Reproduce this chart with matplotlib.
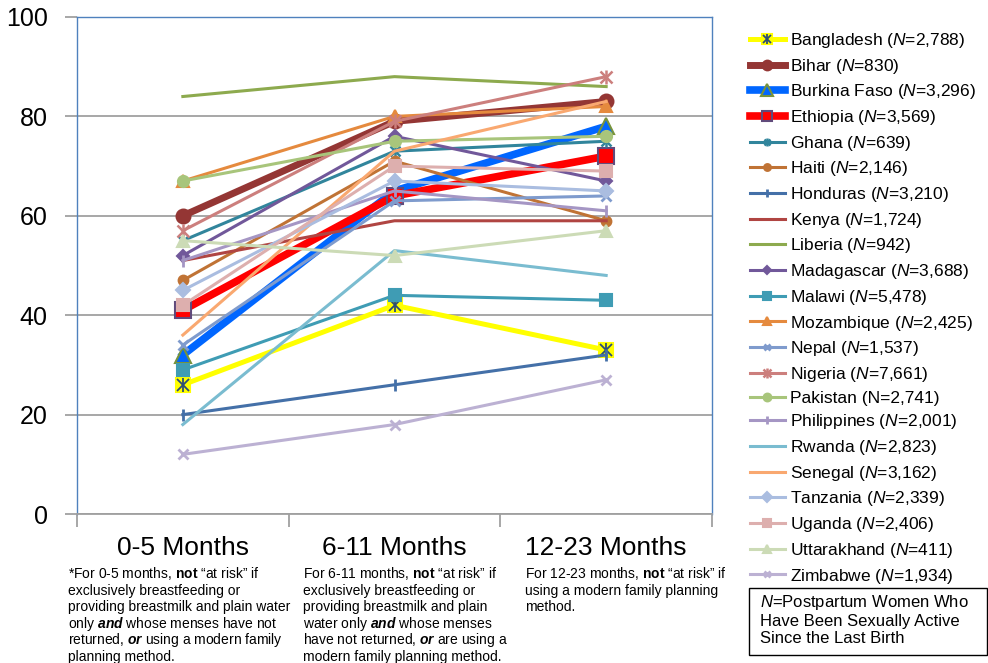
import matplotlib
matplotlib.use('Agg')
import matplotlib.pyplot as plt
from matplotlib.patches import Rectangle

plt.rcParams['font.family'] = ['Liberation Sans', 'DejaVu Sans']
plt.rcParams['mathtext.fontset'] = 'custom'
plt.rcParams['mathtext.rm'] = 'Liberation Sans'
plt.rcParams['mathtext.it'] = 'Liberation Sans:italic'
plt.rcParams['mathtext.bf'] = 'Liberation Sans:bold'
plt.rcParams['mathtext.bfit'] = 'Liberation Sans:bold:italic'

# Data (percent "at risk" by months postpartum)
categories = ['0-5 Months', '6-11 Months', '12-23 Months']

countries = ['Bangladesh', 'Bihar', 'Burkina Faso', 'Ethiopia', 'Ghana', 'Haiti',
             'Honduras', 'Kenya', 'Liberia', 'Madagascar', 'Malawi', 'Mozambique',
             'Nepal', 'Nigeria', 'Pakistan', 'Philippines', 'Rwanda', 'Senegal',
             'Tanzania', 'Uganda', 'Uttarakhand', 'Zimbabwe']
sample_sizes = ['2,788', '830', '3,296', '3,569', '639', '2,146', '3,210', '1,724',
                '942', '3,688', '5,478', '2,425', '1,537', '7,661', '2,741', '2,001',
                '2,823', '3,162', '2,339', '2,406', '411', '1,934']

bangladesh = [26, 42, 33]
bihar = [60, 79, 83]
burkina_faso = [32, 65, 78]
ethiopia = [41, 64, 72]
ghana = [55, 73, 75]
haiti = [47, 71, 59]
honduras = [20, 26, 32]
kenya = [51, 59, 59]
liberia = [84, 88, 86]
madagascar = [52, 76, 67]
malawi = [29, 44, 43]
mozambique = [67, 80, 82]
nepal = [34, 63, 64]
nigeria = [57, 79, 88]
pakistan = [67, 75, 76]
philippines = [51, 65, 61]
rwanda = [18, 53, 48]
senegal = [36, 73, 83]
tanzania = [45, 67, 65]
uganda = [42, 70, 69]
uttarakhand = [55, 52, 57]
zimbabwe = [12, 18, 27]

series_values = [bangladesh, bihar, burkina_faso, ethiopia, ghana, haiti, honduras,
                 kenya, liberia, madagascar, malawi, mozambique, nepal, nigeria,
                 pakistan, philippines, rwanda, senegal, tanzania, uganda,
                 uttarakhand, zimbabwe]

# style per series: color, linewidth, marker, markersize, face, edge
# 'ast' = x with a vertical bar through it (Excel star marker)
styles = [
    ('#FFFF00', 3.6, 's', 10, '#FFFF00', '#FFFF00'),
    ('#943634', 5.0, 'o', 10, '#943634', '#943634'),
    ('#0066FF', 5.5, '^', 12, '#0066FF', '#77933C'),
    ('#FF0000', 5.5, 's', 11, '#FF0000', '#604A7B'),
    ('#31859C', 2.2, 'ast', 7, '#31859C', '#31859C'),
    ('#C07335', 2.2, 'o', 7, '#C07335', '#C07335'),
    ('#4470A8', 2.2, '|', 9, '#4470A8', '#4470A8'),
    ('#B04542', 2.2, None, 0, None, None),
    ('#8DAA4E', 2.2, None, 0, None, None),
    ('#71589A', 2.2, 'D', 6, '#71589A', '#71589A'),
    ('#3F9CB4', 2.2, 's', 8, '#3F9CB4', '#3F9CB4'),
    ('#E58A3E', 2.2, '^', 8, '#E58A3E', '#E58A3E'),
    ('#7F9BCD', 2.2, 'x', 7, '#7F9BCD', '#7F9BCD'),
    ('#CC7F7D', 2.2, 'ast', 8, '#CC7F7D', '#CC7F7D'),
    ('#A8C57B', 2.2, 'o', 8, '#A8C57B', '#A8C57B'),
    ('#A596C4', 2.2, '|', 9, '#A596C4', '#A596C4'),
    ('#7ABCD0', 2.2, None, 0, None, None),
    ('#F9A870', 2.2, None, 0, None, None),
    ('#AABDE0', 2.2, 'D', 7, '#AABDE0', '#AABDE0'),
    ('#DDAFAE', 2.2, 's', 8, '#DDAFAE', '#DDAFAE'),
    ('#CCDBB6', 2.2, '^', 8, '#CCDBB6', '#CCDBB6'),
    ('#BCB1D3', 2.2, 'x', 7, '#BCB1D3', '#BCB1D3'),
]

footnotes = [
    ['*For 0-5 months, $\\mathbf{not}$ \u201cat risk\u201d if',
     'exclusively breastfeeding or',
     'providing breastmilk and plain water',
     'only $\\mathbfit{and}$ whose menses have not',
     'returned, $\\mathbfit{or}$ using a modern family',
     'planning method.'],
    ['For 6-11 months, $\\mathbf{not}$ \u201cat risk\u201d if',
     'exclusively breastfeeding or',
     'providing breastmilk and plain',
     'water only $\\mathbfit{and}$ whose menses',
     'have not returned, $\\mathbfit{or}$ are using a',
     'modern family planning method.'],
    ['For 12-23 months, $\\mathbf{not}$ \u201cat risk\u201d if',
     'using a modern family planning',
     'method.'],
]
note_lines = '$\\mathit{N}$=Postpartum Women Who\nHave Been Sexually Active\nSince the Last Birth'


def make_label(name, n):
    if name == 'Pakistan':
        return f'{name} (N={n})'
    return f'{name} ($\\mathit{{N}}$={n})'


def main():
    W, H = 988, 663
    fig = plt.figure(figsize=(W / 100, H / 100), dpi=100)
    ax = fig.add_axes([77 / W, 1 - 514 / H, (712 - 77) / W, (514 - 17) / H])

    x = list(range(len(categories)))
    handles, labels = [], []
    for name, n, vals, st in zip(countries, sample_sizes, series_values, styles):
        color, lw, marker, ms, face, edge = st
        kw = dict(color=color, lw=lw, solid_joinstyle='round')
        extra = None
        if marker == 'ast':
            kw.update(marker='x', markersize=ms, markeredgecolor=edge, markeredgewidth=1.8)
            line, = ax.plot(x, vals, **kw)
            extra, = ax.plot(x, vals, ls='none', marker='|', markersize=ms * 1.3,
                             markeredgecolor=edge, markeredgewidth=1.8)
        elif marker is not None:
            mew = 2.0 if marker in ('x', '|') else 1.5
            kw.update(marker=marker, markersize=ms, markerfacecolor=face,
                      markeredgecolor=edge, markeredgewidth=mew)
            line, = ax.plot(x, vals, **kw)
        else:
            line, = ax.plot(x, vals, **kw)
        if name == 'Bangladesh':
            # dark asterisk drawn over the yellow square
            a1, = ax.plot(x, vals, ls='none', marker='x', markersize=8,
                          markeredgecolor='#2C4D75', markeredgewidth=1.3)
            a2, = ax.plot(x, vals, ls='none', marker='|', markersize=10,
                          markeredgecolor='#2C4D75', markeredgewidth=1.3)
            extra = (a1, a2)
        if extra is None:
            handles.append(line)
        elif isinstance(extra, tuple):
            handles.append((line,) + extra)
        else:
            handles.append((line, extra))
        labels.append(make_label(name, n))

    ax.set_xlim(-0.5, 2.5)
    ax.set_ylim(0, 100)
    ax.set_yticks(range(0, 101, 20))
    ax.yaxis.grid(True, color='#A0A0A0', lw=1.3)
    ax.set_axisbelow(True)
    ax.tick_params(axis='y', labelsize=18, length=9, width=1.3, color='#A0A0A0',
                   pad=12)

    ax.set_xticks([-0.5, 0.5, 1.5, 2.5])
    ax.set_xticklabels([])
    ax.tick_params(axis='x', which='major', length=9, width=1.3, color='#A0A0A0')
    ax.set_xticks(x, minor=True)
    ax.set_xticklabels(categories, minor=True, fontsize=19)
    ax.tick_params(axis='x', which='minor', length=0, pad=16)

    for side in ('left', 'top', 'right'):
        ax.spines[side].set_color('#4F81BD')
        ax.spines[side].set_linewidth(1.0)
    ax.spines['bottom'].set_color('#A0A0A0')
    ax.spines['bottom'].set_linewidth(1.3)

    # legend
    fig.legend(handles, labels, loc='upper left', bbox_to_anchor=(750 / W, 1 - 31 / H),
               frameon=False, fontsize=12.5, handlelength=2.0, handletextpad=0.3,
               labelspacing=0.385, borderpad=0, borderaxespad=0, numpoints=1,
               markerscale=0.7)

    # footnotes under each category, one text per line for even spacing
    for xpos, lines in zip([68, 303, 525], footnotes):
        for i, txt in enumerate(lines):
            fig.text(xpos / W, 1 - (578 + i * 16.6) / H, txt, fontsize=10,
                     va='baseline', ha='left')

    # note box
    fig.add_artist(Rectangle((749 / W, 1 - 655 / H), (987 - 749) / W, (655 - 588) / H,
                             transform=fig.transFigure, fill=False, ec='black', lw=1))
    fig.text(760 / W, 1 - 593 / H, note_lines, fontsize=12, va='top', ha='left',
             linespacing=1.15)

    fig.savefig('out.png', dpi=100)


if __name__ == '__main__':
    main()
